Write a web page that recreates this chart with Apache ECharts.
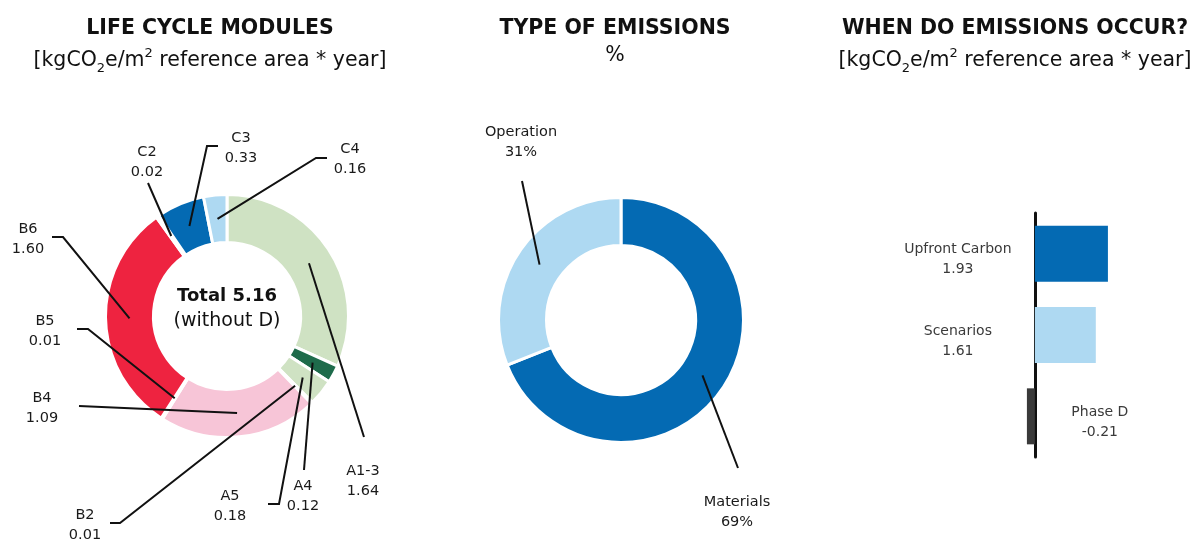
<!DOCTYPE html>
<html lang="en">
<head>
    <meta charset="UTF-8">
    <title>Emissions overview</title>
    <script src="https://cdn.jsdelivr.net/npm/echarts/dist/echarts.min.js"></script>
    <style>
        html, body { margin: 0; padding: 0; background: #fff; }
        #chart { width: 1204px; height: 539px; }
    </style>
</head>
<body>
    <div id="chart"></div>
    <script>
        // life cycle modules (kgCO2e/m2 reference area * year)
        let moduleNames = ['A1-3', 'A4', 'A5', 'B2', 'B4', 'B5', 'B6', 'C2', 'C3', 'C4'];
        let moduleValues = [1.64, 0.12, 0.18, 0.01, 1.09, 0.01, 1.60, 0.02, 0.33, 0.16];
        let moduleColors = ['#cfe2c3', '#1e6b4b', '#cfe2c3', '#f7c5d7', '#f7c5d7', '#f7c5d7', '#ee2340', '#046ab3', '#046ab3', '#aed9f2'];

        // type of emissions (%)
        let typeNames = ['Materials', 'Operation'];
        let typeValues = [69, 31];
        let typeColors = ['#046ab3', '#aed9f2'];

        // when do emissions occur
        let whenNames = ['Upfront Carbon', 'Scenarios', 'Phase D'];
        let whenValues = [1.93, 1.61, -0.21];
        let whenColors = ['#046ab3', '#aed9f2', '#3a3a3a'];

        let font = 'DejaVu Sans';
        let total = moduleValues.reduce((a, b) => a + b, 0);

        // label placement: [labelX, labelY, elbowX, elbowY, tailX]
        let modulePos = {
            'A1-3': [363, 481, 364, 437, 364],
            'A4': [303, 496, 304, 470, 304],
            'A5': [230, 506, 279, 504, 268],
            'B2': [85, 525, 120, 523, 110],
            'B4': [42, 408, 79, 406, 79],
            'B5': [45, 331, 88, 329, 77],
            'B6': [28, 239, 63, 237, 52],
            'C2': [147, 162, 148, 183, 148],
            'C3': [241, 148, 207, 146, 218],
            'C4': [350, 159, 316, 158, 327]
        };
        let typePos = {
            'Materials': [737, 512, 738, 468, 738],
            'Operation': [521, 142, 522, 181, 522]
        };

        function labelPlacer(names, pos) {
            return function (params) {
                let p = pos[names[params.dataIndex]];
                let pts = params.labelLinePoints;
                if (!p || !pts) return {};
                return {
                    x: p[0], y: p[1], align: 'center', verticalAlign: 'middle',
                    labelLinePoints: [pts[0], [p[2], p[3]], [p[4], p[3]]]
                };
            };
        }

        let labelText = { fontFamily: font, fontSize: 14.5, lineHeight: 20, color: '#1a1a1a' };
        let unitRich = {
            n: { fontFamily: font, fontSize: 20.5, lineHeight: 28, color: '#111' },
            sub: { fontFamily: font, fontSize: 13, lineHeight: 12, color: '#111', verticalAlign: 'bottom' },
            sup: { fontFamily: font, fontSize: 13, lineHeight: 12, color: '#111', verticalAlign: 'top' }
        };
        let unitText = '{n|[kgCO}{sub|2}{n|e/m}{sup|2}{n| reference area * year]}';

        function heading(text, sub, x, gap) {
            return {
                text: text, subtext: sub, left: x, top: 18, padding: 0,
                textAlign: 'center', textVerticalAlign: 'top', itemGap: gap,
                textStyle: { fontFamily: font, fontSize: 20.5, fontWeight: 'bold', color: '#111' },
                subtextStyle: { fontFamily: font, fontSize: 20.5, color: '#111', rich: unitRich }
            };
        }

        let chart = echarts.init(document.getElementById('chart'));
        let option = {
            animation: false,
            title: [
                heading('LIFE CYCLE MODULES', unitText, 210, 8),
                heading('TYPE OF EMISSIONS', '{n|%}', 615, 3),
                heading('WHEN DO EMISSIONS OCCUR?', unitText, 1015, 8),
                {
                    text: 'Total ' + total.toFixed(2), subtext: '(without D)',
                    left: 227, top: 287, padding: 0, itemGap: 7,
                    textAlign: 'center', textVerticalAlign: 'top',
                    textStyle: { fontFamily: font, fontSize: 18, fontWeight: 'bold', color: '#111' },
                    subtextStyle: { fontFamily: font, fontSize: 19, color: '#111' }
                }
            ],
            grid: { left: 997, width: 132.5, top: 213, height: 244 },
            xAxis: {
                type: 'value', min: -1, max: 2.5,
                axisLine: { show: false }, axisTick: { show: false },
                axisLabel: { show: false }, splitLine: { show: false }
            },
            yAxis: {
                type: 'category', data: whenNames, inverse: true,
                axisLine: { show: true, onZero: true, lineStyle: { color: '#111', width: 3 } },
                axisTick: { show: false }, axisLabel: { show: false }
            },
            series: [
                {
                    name: 'modules ring',
                    type: 'pie',
                    center: [227, 316],
                    radius: [73.5, 121.5],
                    startAngle: 90,
                    silent: true,
                    data: moduleNames.map((n, i) => ({ name: n, value: moduleValues[i], itemStyle: { color: moduleColors[i] } })),
                    itemStyle: { borderColor: '#fff', borderWidth: 3 },
                    label: { show: false },
                    labelLine: { show: false }
                },
                {
                    // transparent copy on top, only for labels starting mid ring
                    name: 'modules labels',
                    type: 'pie',
                    z: 5,
                    center: [227, 316],
                    radius: [0, 97.5],
                    startAngle: 90,
                    silent: true,
                    avoidLabelOverlap: false,
                    data: moduleNames.map((n, i) => ({ name: n, value: moduleValues[i] })),
                    itemStyle: { color: 'rgba(0,0,0,0)' },
                    label: Object.assign({
                        show: true, position: 'outside',
                        formatter: p => p.name + '\n' + p.value.toFixed(2)
                    }, labelText),
                    labelLine: { show: true, length: 10, length2: 10, lineStyle: { color: '#111', width: 2 } },
                    labelLayout: labelPlacer(moduleNames, modulePos)
                },
                {
                    name: 'type ring',
                    type: 'pie',
                    center: [621, 320],
                    radius: [74.5, 122.5],
                    startAngle: 90,
                    silent: true,
                    data: typeNames.map((n, i) => ({ name: n, value: typeValues[i], itemStyle: { color: typeColors[i] } })),
                    itemStyle: { borderColor: '#fff', borderWidth: 3 },
                    label: { show: false },
                    labelLine: { show: false }
                },
                {
                    name: 'type labels',
                    type: 'pie',
                    z: 5,
                    center: [621, 320],
                    radius: [0, 98.5],
                    startAngle: 90,
                    silent: true,
                    avoidLabelOverlap: false,
                    data: typeNames.map((n, i) => ({ name: n, value: typeValues[i] })),
                    itemStyle: { color: 'rgba(0,0,0,0)' },
                    label: Object.assign({
                        show: true, position: 'outside',
                        formatter: p => p.name + '\n' + p.value + '%'
                    }, labelText),
                    labelLine: { show: true, length: 10, length2: 10, lineStyle: { color: '#111', width: 2 } },
                    labelLayout: labelPlacer(typeNames, typePos)
                },
                {
                    name: 'when',
                    type: 'bar',
                    barWidth: 56,
                    silent: true,
                    data: whenValues.map((v, i) => ({
                        value: v,
                        itemStyle: { color: whenColors[i] },
                        label: { position: v >= 0 ? 'left' : 'right', distance: v >= 0 ? 77 : 65 }
                    })),
                    label: {
                        show: true, align: 'center', verticalAlign: 'middle', offset: [0, 6],
                        fontFamily: font, fontSize: 14, lineHeight: 20, color: '#3a3a3a',
                        formatter: p => p.name + '\n' + p.value.toFixed(2)
                    }
                }
            ]
        };
        chart.setOption(option);
    </script>
</body>
</html>
